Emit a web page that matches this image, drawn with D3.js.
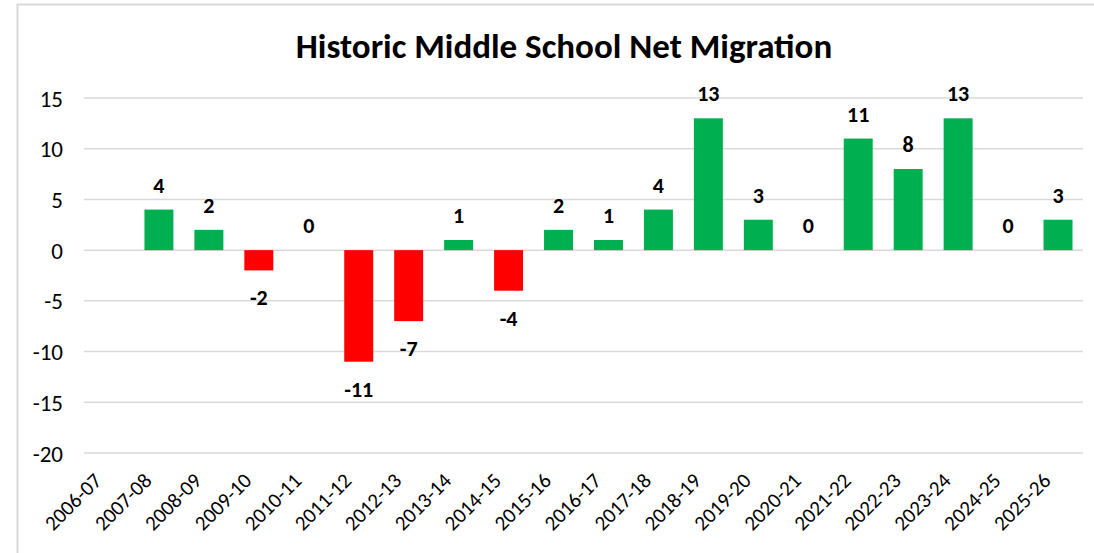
<!DOCTYPE html>
<html>
<head>
<meta charset="utf-8">
<script src="https://cdn.jsdelivr.net/npm/d3@7"></script>
<style>
  body { margin: 0; background: #fff; }
  svg text { font-family: Calibri, Carlito, "Open Sans", "Liberation Sans", sans-serif; }
</style>
</head>
<body>
<div id="chart"></div>
<script>
// data
const years = ["2006-07", "2007-08", "2008-09", "2009-10", "2010-11", "2011-12", "2012-13",
  "2013-14", "2014-15", "2015-16", "2016-17", "2017-18", "2018-19", "2019-20", "2020-21",
  "2021-22", "2022-23", "2023-24", "2024-25", "2025-26"];
const netMigration = [null, 4, 2, -2, 0, -11, -7, 1, -4, 2, 1, 4, 13, 3, 0, 11, 8, 13, 0, 3];
const yTicks = [15, 10, 5, 0, -5, -10, -15, -20];

const title = "Historic Middle School Net Migration";

// size
const W = 1094, H = 553;
const margin = {top: 98, right: 11, bottom: 100, left: 84};
const width = W - margin.left - margin.right;
const height = 453 - margin.top;

const svg = d3.select("#chart").append("svg")
  .attr("width", W)
  .attr("height", H);

// chart border
svg.append("rect")
  .attr("x", 17.5).attr("y", 4.5)
  .attr("width", W + 20).attr("height", H + 20)
  .attr("fill", "none")
  .attr("stroke", "#d9d9d9")
  .attr("stroke-width", 2);

svg.append("text")
  .attr("x", 564)
  .attr("y", 58)
  .attr("text-anchor", "middle")
  .attr("font-size", 35)
  .attr("font-weight", "bold")
  .attr("fill", "#000")
  .text(title);

const g = svg.append("g")
  .attr("transform", `translate(${margin.left},${margin.top})`);

// scales
const x = d3.scaleBand().domain(years).range([0, width]).paddingInner(0.42).paddingOuter(0.21);
const y = d3.scaleLinear().domain([-20, 15]).range([height, 0]);

// gridlines
g.append("g")
  .selectAll("line")
  .data(yTicks)
  .join("line")
  .attr("x1", 0).attr("x2", width)
  .attr("y1", d => y(d)).attr("y2", d => y(d))
  .attr("stroke", "#d9d9d9")
  .attr("stroke-width", 1.5);

// y axis (plain hyphen for minus, like the original)
const yAxis = d3.axisLeft(y).tickValues(yTicks).tickFormat(d => String(d)).tickSize(0).tickPadding(21);
g.append("g").call(yAxis)
  .call(a => a.select(".domain").remove())
  .selectAll("text")
  .attr("font-size", 23)
  .attr("dy", "0.35em")
  .attr("fill", "#000");

// x axis labels
const xAxis = d3.axisBottom(x).tickSize(0).tickPadding(0);
g.append("g")
  .attr("transform", `translate(0,${height})`)
  .call(xAxis)
  .call(a => a.select(".domain").remove())
  .selectAll("text")
  .attr("font-size", 21)
  .attr("fill", "#000")
  .attr("text-anchor", "end")
  .attr("dy", 0)
  .attr("transform", "translate(-6,29) rotate(-45)");

g.selectAll(".tick text").attr("font-family", null);
g.selectAll(".tick").attr("font-family", null);

// bars
const data = years.map((yr, i) => ({year: yr, value: netMigration[i]}));
g.append("g")
  .selectAll("rect")
  .data(data.filter(d => d.value !== null && d.value !== 0))
  .join("rect")
  .attr("x", d => x(d.year))
  .attr("width", x.bandwidth())
  .attr("y", d => y(Math.max(0, d.value)))
  .attr("height", d => Math.abs(y(d.value) - y(0)))
  .attr("fill", d => d.value < 0 ? "#ff0000" : "#00b050");

// value labels
g.append("g")
  .selectAll("text")
  .data(data.filter(d => d.value !== null))
  .join("text")
  .attr("x", d => x(d.year) + x.bandwidth() / 2)
  .attr("y", d => d.value < 0 ? y(d.value) + 35 : y(d.value) - 17)
  .attr("text-anchor", "middle")
  .attr("font-size", 22)
  .attr("font-weight", "bold")
  .attr("fill", "#000")
  .text(d => d.value);
</script>
</body>
</html>
